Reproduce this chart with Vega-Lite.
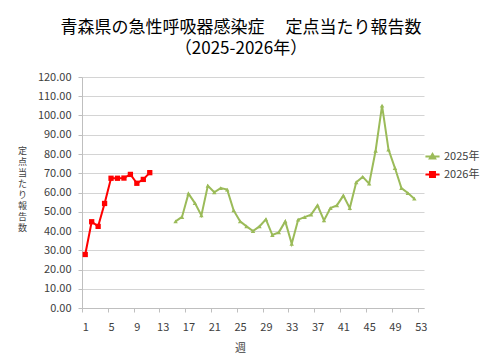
{
  "$schema": "https://vega.github.io/schema/vega-lite/v6.json",
  "width": 342,
  "height": 231,
  "autosize": {"type": "none"},
  "padding": {"left": 82, "top": 77, "right": 56, "bottom": 52},
  "background": "white",
  "config": {
    "view": {"stroke": null},
    "font": "Noto Sans CJK JP"
  },
  "title": {
    "text": ["青森県の急性呼吸器感染症　 定点当たり報告数", "（2025-2026年）"],
    "fontSize": 17,
    "fontWeight": "normal",
    "color": "#000000",
    "anchor": "middle",
    "dx": -12,
    "lineHeight": 21,
    "offset": 13,
    "font": "Noto Sans CJK JP"
  },
  "data": {
    "values": [
      {"week": 1, "series": "2026年", "value": 27.8},
      {"week": 2, "series": "2026年", "value": 44.8},
      {"week": 3, "series": "2026年", "value": 42.4},
      {"week": 4, "series": "2026年", "value": 54.3},
      {"week": 5, "series": "2026年", "value": 67.4},
      {"week": 6, "series": "2026年", "value": 67.4},
      {"week": 7, "series": "2026年", "value": 67.5},
      {"week": 8, "series": "2026年", "value": 69.4},
      {"week": 9, "series": "2026年", "value": 64.8},
      {"week": 10, "series": "2026年", "value": 66.8},
      {"week": 11, "series": "2026年", "value": 70.3},
      {"week": 15, "series": "2025年", "value": 45.0},
      {"week": 16, "series": "2025年", "value": 47.3},
      {"week": 17, "series": "2025年", "value": 59.4},
      {"week": 18, "series": "2025年", "value": 54.5},
      {"week": 19, "series": "2025年", "value": 48.1},
      {"week": 20, "series": "2025年", "value": 63.5},
      {"week": 21, "series": "2025年", "value": 60.1},
      {"week": 22, "series": "2025年", "value": 62.3},
      {"week": 23, "series": "2025年", "value": 61.5},
      {"week": 24, "series": "2025年", "value": 50.7},
      {"week": 25, "series": "2025年", "value": 45.0},
      {"week": 26, "series": "2025年", "value": 42.4},
      {"week": 27, "series": "2025年", "value": 40.0},
      {"week": 28, "series": "2025年", "value": 42.4},
      {"week": 29, "series": "2025年", "value": 46.1},
      {"week": 30, "series": "2025年", "value": 37.9},
      {"week": 31, "series": "2025年", "value": 39.3},
      {"week": 32, "series": "2025年", "value": 45.0},
      {"week": 33, "series": "2025年", "value": 33.4},
      {"week": 34, "series": "2025年", "value": 45.9},
      {"week": 35, "series": "2025年", "value": 47.2},
      {"week": 36, "series": "2025年", "value": 48.5},
      {"week": 37, "series": "2025年", "value": 53.3},
      {"week": 38, "series": "2025年", "value": 45.5},
      {"week": 39, "series": "2025年", "value": 51.9},
      {"week": 40, "series": "2025年", "value": 53.3},
      {"week": 41, "series": "2025年", "value": 58.4},
      {"week": 42, "series": "2025年", "value": 51.9},
      {"week": 43, "series": "2025年", "value": 65.3},
      {"week": 44, "series": "2025年", "value": 68.1},
      {"week": 45, "series": "2025年", "value": 64.6},
      {"week": 46, "series": "2025年", "value": 81.7},
      {"week": 47, "series": "2025年", "value": 105.1},
      {"week": 48, "series": "2025年", "value": 82.3},
      {"week": 49, "series": "2025年", "value": 72.7},
      {"week": 50, "series": "2025年", "value": 62.3},
      {"week": 51, "series": "2025年", "value": 59.7},
      {"week": 52, "series": "2025年", "value": 56.8}
    ]
  },
  "encoding": {
    "x": {
      "field": "week",
      "type": "quantitative",
      "scale": {"domain": [0.5, 53.5], "nice": false, "zero": false},
      "axis": {
        "title": "週",
        "titleFontSize": 11,
        "titleFontWeight": "normal",
        "titleColor": "#404040",
        "titleX": 158,
        "titleY": 40,
        "titleBaseline": "middle",
        "values": [0.5, 1, 4.5, 5, 8.5, 9, 12.5, 13, 16.5, 17, 20.5, 21, 24.5, 25, 28.5, 29, 32.5, 33, 36.5, 37, 40.5, 41, 44.5, 45, 48.5, 49, 52.5, 53],
        "labelExpr": "datum.value % 1 === 0 ? datum.label : ''",
        "labelOverlap": false,
        "labelFontSize": 11,
        "labelColor": "#404040",
        "labelPadding": 13,
        "tickSize": {"condition": {"test": "datum.value % 1 === 0", "value": 0}, "value": 4},
        "tickColor": "#bfbfbf",
        "domainColor": "#bfbfbf",
        "grid": false
      }
    },
    "y": {
      "field": "value",
      "type": "quantitative",
      "scale": {"domain": [0, 120], "nice": false},
      "axis": {
        "title": ["定", "点", "当", "た", "り", "報", "告", "数"],
        "titleAngle": 0,
        "titleFontSize": 9,
        "titleFontWeight": "normal",
        "titleColor": "#404040",
        "titleLineHeight": 11,
        "titleX": -60,
        "titleY": 69,
        "titleAlign": "center",
        "titleBaseline": "top",
        "values": [0, 10, 20, 30, 40, 50, 60, 70, 80, 90, 100, 110, 120],
        "format": ".2f",
        "labelFontSize": 11,
        "labelColor": "#404040",
        "labelPadding": 7,
        "tickSize": 4,
        "tickColor": "#bfbfbf",
        "domainColor": "#bfbfbf",
        "gridColor": "#d4d4d4",
        "gridWidth": 1
      }
    },
    "color": {
      "field": "series",
      "type": "nominal",
      "scale": {"domain": ["2025年", "2026年"], "range": ["#9bbb59", "#ff0000"]},
      "legend": {
        "title": null,
        "orient": "none",
        "legendX": 342,
        "legendY": 71,
        "padding": 0,
        "symbolSize": 200,
        "labelFontSize": 11,
        "labelColor": "#404040",
        "labelOffset": 3,
        "rowPadding": 3,
        "encode": {
          "symbols": {
            "update": {
              "shape": {"signal": "datum.value === '2025年' ? 'M-1,0H1M-0.38,0.3L0,-0.35L0.38,0.3Z' : 'M-1,0H1M-0.35,-0.35H0.35V0.35H-0.35Z'"},
              "fill": {"signal": "datum.value === '2025年' ? '#9bbb59' : '#ff0000'"},
              "stroke": {"signal": "datum.value === '2025年' ? '#9bbb59' : '#ff0000'"},
              "strokeWidth": {"value": 2},
              "opacity": {"value": 1},
              "fillOpacity": {"value": 1},
              "strokeOpacity": {"value": 1}
            }
          }
        }
      }
    }
  },
  "layer": [
    {
      "mark": {"type": "line", "strokeWidth": 2}
    },
    {
      "transform": [{"filter": "datum.series === '2025年'"}],
      "mark": {"type": "point", "filled": true, "opacity": 1, "shape": "triangle-up", "size": 20}
    },
    {
      "transform": [{"filter": "datum.series === '2026年'"}],
      "mark": {"type": "point", "filled": true, "opacity": 1, "shape": "square", "size": 28}
    }
  ]
}
